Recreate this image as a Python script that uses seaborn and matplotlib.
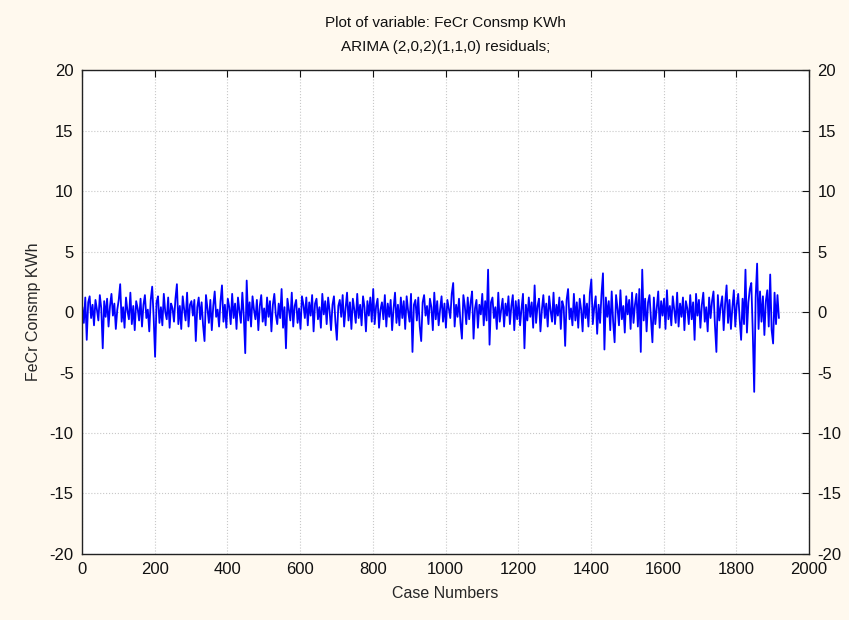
import numpy as np
import pandas as pd
import matplotlib
matplotlib.use("Agg")
import matplotlib.pyplot as plt
import seaborn as sns

# --- data: ARIMA residuals (every 4th case) ---
case_step = 4
residuals = [
    0.4, -0.9, 1.2, -2.3, 0.8, 1.3, -0.5, 0.6, -1.1, 1.0, 0.2, -0.7, 1.4, 0.3, -3.0, 0.9, -0.4, 1.1, -1.2, 0.5,
    1.5, -0.3, 0.7, -1.4, 0.2, 1.0, 2.3, -0.8, 0.4, -1.3, 1.2, 0.1, -0.6, 1.6, -1.0, 0.5, -1.5, 0.9, 0.3, -0.7,
    1.1, -1.2, 0.6, 1.4, -0.5, 0.2, -1.6, 1.0, 2.1, -0.4, -3.7, 0.8, 1.3, -0.9, 0.4, -1.1, 1.5, 0.0, -0.6, 1.2,
    -1.3, 0.7, 0.3, -0.8, 1.1, 2.3, -1.0, 0.5, -1.4, 1.3, 0.2, -0.7, 1.6, -1.2, 0.6, 0.9, -0.3, 1.0, -2.4, 0.4,
    1.2, -0.6, 0.8, -1.1, -2.4, 1.4, 0.3, -0.9, 1.0, -1.5, 0.5, 1.7, -0.4, 0.2, -1.2, 0.9, 2.2, -0.8, 0.6, -1.3,
    1.1, 0.4, -1.0, 1.5, -0.5, 0.7, -1.4, 1.2, 0.1, -0.9, 1.6, -0.3, -3.4, 2.6, -0.7, 0.8, -1.2, 1.3, 0.2, -0.6,
    1.0, -1.5, 0.5, 1.4, -0.8, 0.3, -1.1, 1.2, -0.4, 0.9, -1.6, 0.6, 1.5, -0.2, -1.0, 0.7, -0.5, 1.9, -1.3, 0.4,
    -3.0, 1.1, 0.2, -0.7, 1.6, -1.2, 0.5, 1.0, -0.9, 0.3, -1.4, 1.3, 0.6, -0.5, 1.2, -1.1, 0.8, -0.3, 1.4, -1.6,
    0.7, 1.1, -0.6, 0.4, -1.3, 1.5, -0.2, 0.9, -1.0, 1.2, 0.1, -1.5, 0.6, 1.3, -0.8, -2.3, 0.5, 1.0, -0.4, 1.4,
    -1.2, 0.3, 1.6, -0.7, 0.8, -1.4, 1.1, 0.2, -0.9, 1.5, -0.5, 0.6, -1.1, 1.3, 0.4, -1.6, 0.9, -0.3, 1.2, -0.8,
    1.9, -1.0, 0.5, 1.1, -1.3, 0.2, 0.8, -0.6, 1.4, -1.2, 0.7, -0.4, 1.0, -1.5, 0.3, 1.6, -0.9, 0.6, -1.1, 1.2,
    -0.5, 0.9, -1.4, 1.3, 0.1, -0.8, 1.5, -3.3, 0.6, 1.0, -0.7, 1.2, -1.2, -2.4, 0.8, 1.4, -0.3, 0.5, -1.0, 1.1,
    0.4, -1.5, 1.6, -0.6, 0.9, -1.1, 0.2, 1.3, -0.8, 0.7, -1.3, 1.0, 0.3, -0.5, 1.5, 2.4, -1.2, 0.6, -0.4, 1.1,
    -0.9, -2.2, 1.4, 0.5, -1.0, 1.2, -0.6, 0.8, 1.7, -2.2, 0.3, 1.0, -1.3, 0.6, -0.2, 1.5, -1.1, 0.9, -0.7, 3.5,
    -2.7, 0.8, 1.2, -0.5, 0.4, -1.4, 1.6, -0.8, 0.2, 1.1, -1.2, 0.7, -0.3, 1.3, -1.0, 0.5, 1.4, -1.5, 0.9, -0.6,
    1.0, -1.1, 0.3, 1.5, -3.0, 0.6, -0.7, 1.2, -0.4, 0.8, -1.3, 2.2, -0.9, 0.5, 1.1, -1.6, 0.2, 1.4, -0.5, 0.7,
    -1.2, 1.3, 0.1, -0.8, 1.6, -1.0, 0.6, -0.3, 1.2, -1.4, 0.9, 0.4, -2.8, 1.0, 1.9, -0.6, 0.3, -1.1, 1.5, -0.7,
    0.8, -1.3, 1.1, 0.2, -1.6, 1.4, -0.5, 0.7, -1.2, 1.6, 2.7, -1.0, 0.4, 1.3, -1.8, 0.6, -0.9, 1.5, 3.2, -3.1,
    1.2, -0.4, 0.9, -1.5, 1.7, -0.8, -2.5, 1.4, 0.3, -1.1, 1.8, -0.6, 0.5, -1.7, 1.3, -0.2, 1.0, -1.4, 1.6, -0.9,
    0.6, 1.5, -1.2, 1.9, -3.3, 3.5, -0.7, 1.1, -1.6, 0.8, 1.4, -0.5, -2.5, 1.2, -1.0, 0.4, 1.7, -1.3, 0.9, -0.3,
    1.1, -1.4, 1.8, -0.6, 0.5, -1.1, 1.3, 0.2, -0.9, 1.6, -1.2, 0.7, -0.4, 1.2, -1.5, 0.9, 0.3, -1.0, 1.4, -0.6,
    0.8, -2.3, 1.5, -0.3, 1.0, -1.3, 0.6, 1.6, -0.8, 0.4, -1.6, 1.2, -0.5, 0.9, 1.7, -1.1, -3.3, 1.4, -0.7, 0.5,
    1.3, -1.5, 0.7, 2.2, -0.9, 1.0, -1.4, 0.4, 1.8, -1.2, 0.6, 1.5, -0.6, -2.3, 1.1, -1.0, 3.5, -1.7, 0.8, 1.9,
    2.4, -1.6, -6.6, 1.2, 4.0, -1.4, 1.7, -0.8, 1.3, -1.9, 0.9, 1.8, -1.2, 3.1, -1.5, -2.6, 1.6, -1.0, 1.4, -0.5,
]
case_numbers = np.arange(1, 1 + case_step * len(residuals), case_step)

x_ticks = [0, 200, 400, 600, 800, 1000, 1200, 1400, 1600, 1800, 2000]
y_ticks = [-20, -15, -10, -5, 0, 5, 10, 15, 20]

df = pd.DataFrame({"case": case_numbers, "resid": residuals})

sns.set_style("white")
plt.rcParams['font.family'] = ['Liberation Sans', 'DejaVu Sans']
plt.rcParams['text.color'] = '#111111'
plt.rcParams['axes.unicode_minus'] = False

fig = plt.figure(figsize=(8.49, 6.2), dpi=100, facecolor="#FFF9EE")
ax = fig.add_axes([0.0966, 0.1065, 0.8564, 0.7805])
ax.set_facecolor("white")

sns.lineplot(data=df, x="case", y="resid", ax=ax, color="#0000FF",
             linewidth=1.3, estimator=None, sort=False)

ax.set_xlim(0, 2000)
ax.set_ylim(-20, 20)
ax.set_xticks(x_ticks)
ax.set_yticks(y_ticks)
ax.grid(True, color="#c8c8c8", linestyle=":", linewidth=0.8)

for s in ax.spines.values():
    s.set_color("#222222")
    s.set_linewidth(1.0)

ax.tick_params(axis="both", direction="in", length=5, width=0.8,
               top=True, right=True, labelright=True, labelsize=12,
               colors="#111111", pad=6)

ax.set_xlabel("Case Numbers", fontsize=11.5, labelpad=6)
ax.set_ylabel("FeCr Consmp KWh", fontsize=11.5, labelpad=6)
ax.set_title("Plot of variable: FeCr Consmp KWh\nARIMA (2,0,2)(1,1,0) residuals;",
             fontsize=11, pad=14, linespacing=1.85)

fig.savefig("out.png", dpi=100, facecolor=fig.get_facecolor())
